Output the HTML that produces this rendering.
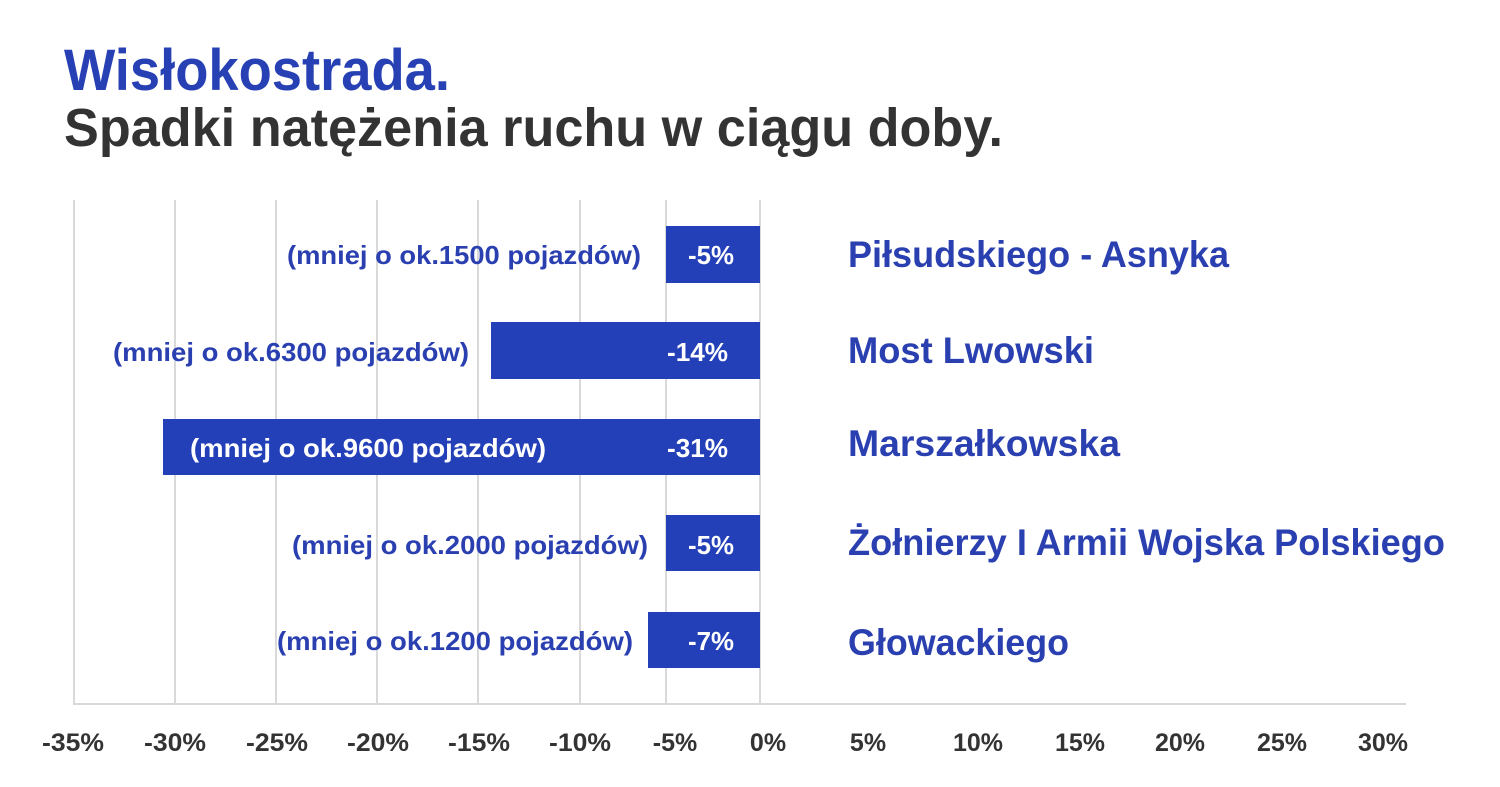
<!DOCTYPE html>
<html><head><meta charset="utf-8"><style>
html,body{margin:0;padding:0;background:#fff;}
svg{display:block;font-family:"Liberation Sans",sans-serif;font-weight:bold;}
</style></head><body>
<svg width="1500" height="787" viewBox="0 0 1500 787" xmlns="http://www.w3.org/2000/svg">
<rect width="1500" height="787" fill="#fff"/>
<text x="64" y="90" font-size="58" fill="#2741b5" textLength="386" lengthAdjust="spacingAndGlyphs">Wisłokostrada.</text>
<text x="64" y="146" font-size="54" fill="#333" textLength="939" lengthAdjust="spacingAndGlyphs">Spadki natężenia ruchu w ciągu doby.</text>
<g stroke="#d9d9d9" stroke-width="2">
<line x1="74" y1="200" x2="74" y2="703"/>
<line x1="175" y1="200" x2="175" y2="703"/>
<line x1="276" y1="200" x2="276" y2="703"/>
<line x1="377" y1="200" x2="377" y2="703"/>
<line x1="478" y1="200" x2="478" y2="703"/>
<line x1="580" y1="200" x2="580" y2="703"/>
<line x1="666" y1="200" x2="666" y2="703"/>
<line x1="760" y1="200" x2="760" y2="703"/>
<line x1="73" y1="704" x2="1406" y2="704"/>
</g>
<g fill="#2440b8">
<rect x="666" y="226" width="94" height="57"/>
<rect x="491" y="322" width="269" height="57"/>
<rect x="163" y="419" width="597" height="56"/>
<rect x="666" y="515" width="94" height="56"/>
<rect x="648" y="612" width="112" height="56"/>
</g>
<g font-size="26" fill="#2a3fb0">
<text x="287" y="264" textLength="354" lengthAdjust="spacingAndGlyphs">(mniej o ok.1500 pojazdów)</text>
<text x="113" y="361" textLength="356" lengthAdjust="spacingAndGlyphs">(mniej o ok.6300 pojazdów)</text>
<text x="292" y="554" textLength="356" lengthAdjust="spacingAndGlyphs">(mniej o ok.2000 pojazdów)</text>
<text x="277" y="650" textLength="356" lengthAdjust="spacingAndGlyphs">(mniej o ok.1200 pojazdów)</text>
</g>
<g font-size="26" fill="#fff">
<text x="190" y="457" textLength="356" lengthAdjust="spacingAndGlyphs">(mniej o ok.9600 pojazdów)</text>
<text x="688" y="264" textLength="46" lengthAdjust="spacingAndGlyphs">-5%</text>
<text x="667" y="361" textLength="61" lengthAdjust="spacingAndGlyphs">-14%</text>
<text x="667" y="457" textLength="61" lengthAdjust="spacingAndGlyphs">-31%</text>
<text x="688" y="554" textLength="46" lengthAdjust="spacingAndGlyphs">-5%</text>
<text x="688" y="650" textLength="46" lengthAdjust="spacingAndGlyphs">-7%</text>
</g>
<g font-size="37" fill="#2a3fb0">
<text x="848" y="267" textLength="381" lengthAdjust="spacingAndGlyphs">Piłsudskiego - Asnyka</text>
<text x="848" y="363" textLength="246" lengthAdjust="spacingAndGlyphs">Most Lwowski</text>
<text x="848" y="456" textLength="272" lengthAdjust="spacingAndGlyphs">Marszałkowska</text>
<text x="848" y="555" textLength="597" lengthAdjust="spacingAndGlyphs">Żołnierzy I Armii Wojska Polskiego</text>
<text x="848" y="655" textLength="221" lengthAdjust="spacingAndGlyphs">Głowackiego</text>
</g>
<g font-size="25" fill="#333" text-anchor="middle">
<text x="73" y="751" textLength="62" lengthAdjust="spacingAndGlyphs">-35%</text>
<text x="175" y="751" textLength="62" lengthAdjust="spacingAndGlyphs">-30%</text>
<text x="277" y="751" textLength="62" lengthAdjust="spacingAndGlyphs">-25%</text>
<text x="378" y="751" textLength="62" lengthAdjust="spacingAndGlyphs">-20%</text>
<text x="479" y="751" textLength="62" lengthAdjust="spacingAndGlyphs">-15%</text>
<text x="580" y="751" textLength="62" lengthAdjust="spacingAndGlyphs">-10%</text>
<text x="675" y="751">-5%</text>
<text x="768" y="751">0%</text>
<text x="868" y="751">5%</text>
<text x="978" y="751">10%</text>
<text x="1080" y="751">15%</text>
<text x="1180" y="751">20%</text>
<text x="1282" y="751">25%</text>
<text x="1383" y="751">30%</text>
</g>
</svg>
</body></html>
